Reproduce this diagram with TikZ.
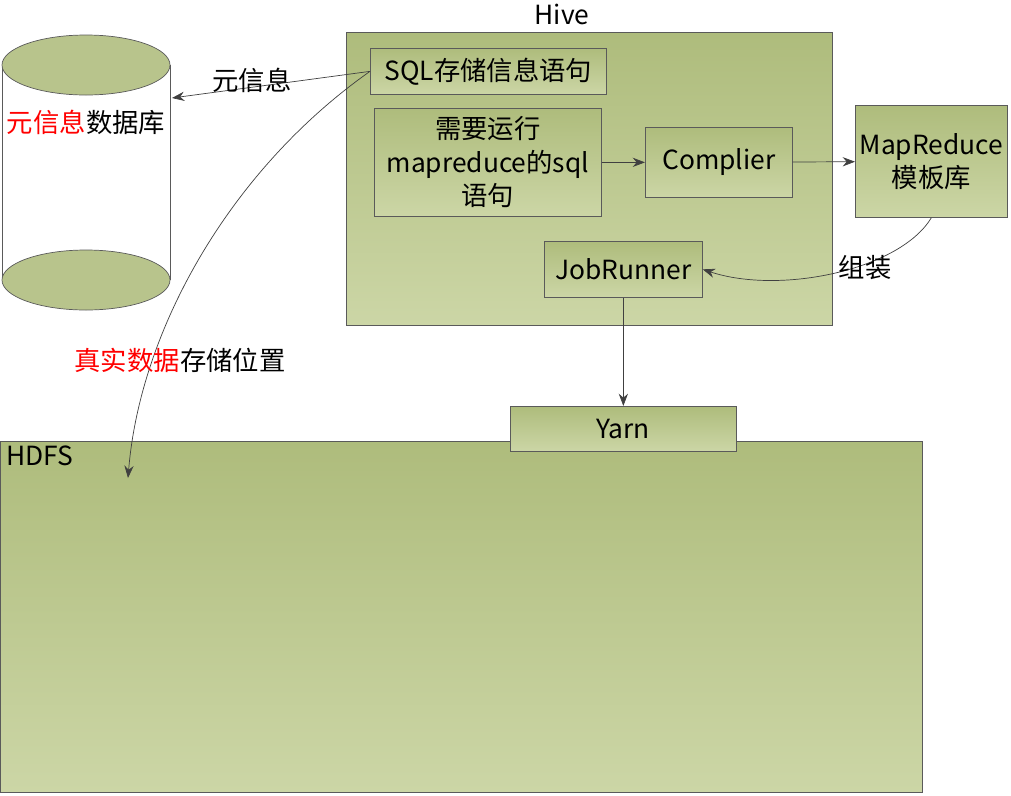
\documentclass[tikz,border=0pt]{standalone}
\usepackage{fontspec}
\setmainfont{Noto Sans CJK SC}
\usetikzlibrary{arrows.meta}
\definecolor{olive}{RGB}{184,196,140}
\definecolor{olivetop}{RGB}{174,188,124}
\definecolor{olivebot}{RGB}{204,214,166}
\definecolor{edge}{RGB}{90,90,90}
\tikzset{
  box/.style={draw=edge,rectangle,top color=olivetop,bottom color=olivebot,inner sep=0pt,anchor=north west},
  lbl/.style={font=\fontsize{15}{19}\selectfont,align=center},
  arr/.style={-{Stealth[length=7pt]},draw=black!75}
}
\begin{document}
\begin{tikzpicture}[x=0.02cm,y=-0.02cm]
	\useasboundingbox (0,0) rectangle (1011,795);
	% containers
	\node[box,minimum width=486*0.02cm,minimum height=293*0.02cm] (hive) at (346,32) {};
	\node[lbl,above] (hivelbl) at (562,31) {Hive};
	\node[box,minimum width=922*0.02cm,minimum height=351*0.02cm] (hdfs) at (0,441) {};
	\node[lbl,anchor=north west] (hdfslbl) at (0,440) {HDFS};
	% cylinder
	\draw[edge] (2,65) -- (2,280) (170,65) -- (170,280);
	\draw[edge,fill=olive] (86,65) ellipse[x radius=84,y radius=30];
	\draw[edge,fill=olive] (86,280) ellipse[x radius=84,y radius=30];
	\node[lbl] (db) at (86,122) {\textcolor{red}{元信息}数据库};
	% inner boxes
	\node[box,minimum width=236*0.02cm,minimum height=46*0.02cm] (sql) at (370,48) {};
	\node[lbl] at (sql.center) {SQL存储信息语句};
	\node[box,minimum width=227*0.02cm,minimum height=108*0.02cm] (need) at (374,108) {};
	\node[lbl] at (need.center) {需要运行\\mapreduce的sql\\语句};
	\node[box,minimum width=147*0.02cm,minimum height=70*0.02cm] (comp) at (645,127) {};
	\node[lbl] at (comp.center) {Complier};
	\node[box,minimum width=152*0.02cm,minimum height=112*0.02cm] (mr) at (855,105) {};
	\node[lbl] at (mr.center) {MapReduce\\模板库};
	\node[box,minimum width=158*0.02cm,minimum height=56*0.02cm] (job) at (544,241) {};
	\node[lbl] at (job.center) {JobRunner};
	\node[box,minimum width=226*0.02cm,minimum height=45*0.02cm] (yarn) at (510,406) {};
	\node[lbl] at (yarn.center) {Yarn};
	\coordinate (dbin) at (172,98);
	\coordinate (hdfsin) at (128,478);
	% connectors
	\draw[arr] (sql.west) -- (dbin);
	\node[lbl] (meta) at (252,80) {元信息};
	\draw[arr] (sql.west) .. controls (230,170) and (140,330) .. (hdfsin);
	\node[lbl] (real) at (180,360) {\textcolor{red}{真实数据}存储位置};
	\draw[arr] (need) -- (comp);
	\draw[arr] (comp) -- (mr);
	\draw[arr] (mr.south) .. controls (900,270) and (780,295) .. (job.east);
	\node[lbl] (asm) at (865,268) {组装};
	\draw[arr] (job.south) -- (yarn.north-|job.south);
\end{tikzpicture}
\end{document}
